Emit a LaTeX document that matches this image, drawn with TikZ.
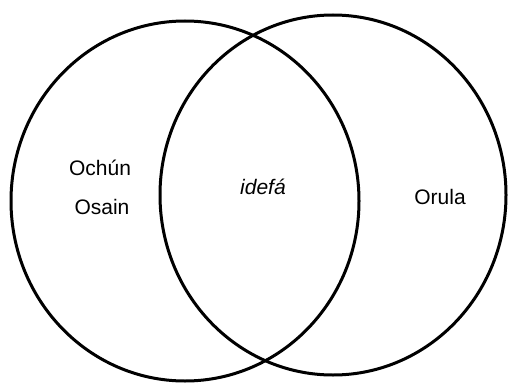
\documentclass[tikz,border=0pt]{standalone}
\usepackage{fontspec}
\setmainfont{Liberation Sans}
\usetikzlibrary{shapes.geometric}
\begin{document}
\begin{tikzpicture}[x=1pt,y=1pt,
  setring/.style={draw=black, line width=3pt, ellipse, inner sep=0pt},
  lbl/.style={font=\fontsize{21}{25}\selectfont, inner sep=0pt}]
\useasboundingbox (0,0) rectangle (508,384);
\node[setring, minimum width=348pt, minimum height=360pt] (left) at (185,183) {};
\node[setring, minimum width=346pt, minimum height=360pt] (right) at (333,189) {};
\node[lbl] (ochun) at (100,216) {Ochún};
\node[lbl] (osain) at (102,177) {Osain};
\node[lbl, font=\fontsize{21}{25}\selectfont\itshape] (idefa) at (263,197) {idefá};
\node[lbl] (orula) at (440,187) {Orula};
\end{tikzpicture}
\end{document}
